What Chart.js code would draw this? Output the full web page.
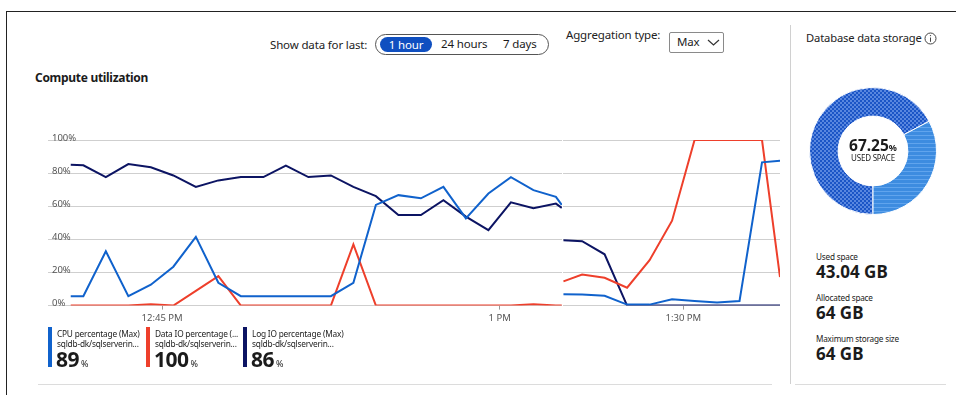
<!DOCTYPE html>
<html>
<head>
<meta charset="utf-8">
<script src="https://cdn.jsdelivr.net/npm/chart.js@4.4.0/dist/chart.umd.min.js"></script>
<style>
  body { margin: 0; width: 956px; height: 395px; overflow: hidden; background: #fff;
         font-family: "Noto Sans", sans-serif; color: #1b1b1b; position: relative; }
  .abs { position: absolute; white-space: nowrap; }
  .frame-top { left: 6px; top: 11px; width: 950px; height: 1px; background: #222; }
  .frame-left { left: 6px; top: 11px; width: 1px; height: 384px; background: #222; }
  .sep { left: 790px; top: 25px; width: 1px; height: 359px; background: #d0d0d0; }
  .bottom { top: 384px; height: 1px; background: #dcdcdc; }
  .lbl { font-size: 11.5px; line-height: 16px; color: #222; letter-spacing: -0.15px; }
  .pill { left: 375px; top: 34px; width: 172px; height: 19px; border: 1px solid #555; border-radius: 11px; }
  .pill span { position: absolute; top: 1px; font-size: 11.5px; line-height: 16px; letter-spacing: -0.15px; }
  .pill .on { left: 4px; top: 2px; width: 52px; height: 15px; line-height: 15px; background: #0f4fc0;
              color: #fff; border-radius: 8px; text-align: center; }
  .drop { left: 669px; top: 32px; width: 53px; height: 19px; border: 1px solid #8a8a8a; border-radius: 2px; }
  .title { left: 35px; top: 69px; font-size: 12px; font-weight: 700; letter-spacing: -0.3px; }
  .leg { top: 327px; }
  .leg .bar { position: absolute; left: 0; top: 0; width: 4px; height: 40px; }
  .leg .t { position: absolute; left: 9px; font-size: 8.3px; line-height: 10px; letter-spacing: -0.2px; color: #222; }
  .leg .v { position: absolute; left: 8px; top: 20px; font-size: 21px; line-height: 24px; font-weight: 700; letter-spacing: -0.5px; }
  .leg .v small { font-size: 9px; font-weight: 400; margin-left: 2px; letter-spacing: 0; }
  .st { left: 816px; }
  .st .k { font-size: 8.2px; line-height: 10px; color: #222; letter-spacing: -0.2px; }
  .st .n { font-size: 17px; line-height: 20px; font-weight: 700; }
</style>
</head>
<body>
<div class="abs frame-top"></div>
<div class="abs frame-left"></div>
<div class="abs sep"></div>
<div class="abs bottom" style="left:38px;width:734px"></div>
<div class="abs bottom" style="left:795px;width:151px"></div>

<div class="abs lbl" style="left:270px;top:37px">Show data for last:</div>
<div class="abs pill">
  <span class="on">1 hour</span>
  <span style="left:65px">24 hours</span>
  <span style="left:127px">7 days</span>
</div>
<div class="abs lbl" style="left:566px;top:27px">Aggregation type:</div>
<div class="abs drop">
  <span class="abs lbl" style="left:7px;top:1px">Max</span>
  <svg class="abs" style="left:37px;top:5px" width="13" height="9"><polyline points="1,2 6.5,7 12,2" fill="none" stroke="#333" stroke-width="1.2"/></svg>
</div>
<div class="abs title">Compute utilization</div>

<canvas id="leftChart" class="abs" style="left:40px;top:120px" width="524" height="210"></canvas>
<canvas id="rightChart" class="abs" style="left:562px;top:120px" width="224" height="210"></canvas>

<div class="abs leg" style="left:48px">
  <div class="bar" style="background:#1062cc"></div>
  <div class="t" style="top:2px">CPU percentage (Max)</div>
  <div class="t" style="top:12px">sqldb-dk/sqlserverin...</div>
  <div class="v">89<small>%</small></div>
</div>
<div class="abs leg" style="left:146px">
  <div class="bar" style="background:#ee3f2b"></div>
  <div class="t" style="top:2px">Data IO percentage (...</div>
  <div class="t" style="top:12px">sqldb-dk/sqlserverin...</div>
  <div class="v">100<small>%</small></div>
</div>
<div class="abs leg" style="left:243px">
  <div class="bar" style="background:#0c1463"></div>
  <div class="t" style="top:2px">Log IO percentage (Max)</div>
  <div class="t" style="top:12px">sqldb-dk/sqlserverin...</div>
  <div class="v">86<small>%</small></div>
</div>

<div class="abs lbl" style="left:806px;top:30px;font-size:11.2px">Database data storage</div>
<svg class="abs" style="left:924px;top:32px" width="13" height="13"><circle cx="6.5" cy="6.5" r="5.5" fill="none" stroke="#444" stroke-width="1"/><line x1="6.5" y1="5.5" x2="6.5" y2="9.8" stroke="#444" stroke-width="1"/><circle cx="6.5" cy="3.6" r="0.7" fill="#444"/></svg>

<canvas id="donut" class="abs" style="left:809px;top:87px" width="128" height="128"></canvas>
<div class="abs" style="left:809px;top:136px;width:128px;text-align:center;font-size:15.5px;font-weight:700;line-height:18px">67.25<span style="font-size:9px">%</span></div>
<div class="abs" style="left:809px;top:153px;width:128px;text-align:center;font-size:8px;line-height:10px;letter-spacing:-0.2px">USED SPACE</div>

<div class="abs st" style="top:252px"><div class="k">Used space</div><div class="n">43.04 GB</div></div>
<div class="abs st" style="top:293px"><div class="k">Allocated space</div><div class="n">64 GB</div></div>
<div class="abs st" style="top:334px"><div class="k">Maximum storage size</div><div class="n">64 GB</div></div>

<script>
// sample times are minutes after 12:00 PM, one sample per minute
const leftTimes = [40.94, 41.5, 42.5, 43.5, 44.5, 45.5, 46.5, 47.5, 48.5, 49.5, 50.5, 51.5,
  52.5, 53.5, 54.5, 55.5, 56.5, 57.5, 58.5, 59.5, 60.5, 61.5, 62.5, 62.76];
const cpuLeft = [5.7, 5.7, 32.8, 5.7, 12.6, 23.5, 41.5, 13.8, 5.7, 5.7, 5.7, 5.7,
  5.7, 13.8, 60.8, 66.7, 64.8, 71.7, 52.7, 67.7, 77.6, 69.7, 65.7, 60.8];
const dataIoLeft = [0, 0, 0, 0, 0.8, 0, 8.9, 17.8, 0, 0, 0, 0,
  0, 36.9, 0, 0, 0, 0, 0, 0, 0, 0.8, 0, 0];
const logIoLeft = [85.1, 84.7, 77.6, 85.5, 83.5, 78.6, 71.7, 75.6, 77.6, 77.6, 84.5, 77.6,
  78.6, 71.7, 66.1, 54.7, 54.7, 63.6, 53.7, 45.6, 62.4, 58.8, 61.6, 59.0];

const rightTimes = [84.67, 85.5, 86.5, 87.5, 88.5, 89.5, 90.5, 91.5, 92.5, 93.5, 94.3];
const cpuRight = [6.9, 6.7, 5.9, 0.6, 0.6, 3.8, 2.8, 1.8, 2.8, 86.5, 87.5];
const dataIoRight = [14.6, 18.8, 16.8, 10.8, 27.4, 51.3, 100, 100, 100, 100, 17.2];
const logIoRight = [39.5, 38.9, 31.0, 0, 0, 0, 0, 0, 0, 0, 0];

const leftTicks = [45, 60];
const leftTickLabels = ['12:45 PM', '1 PM'];
const rightTicks = [90];
const rightTickLabels = ['1:30 PM'];

const usedPct = 67.25;

const colors = { cpu: '#1062cc', dataIo: '#ee3f2b', logIo: '#0c1463' };

Chart.defaults.font.family = '"Noto Sans", sans-serif';
Chart.defaults.animation = false;

const toPoints = (times, vals) => times.map((t, i) => ({ x: t, y: vals[i] }));

function lineChart(id, times, series, range, ticks, tickLabels, showY, pad) {
  return new Chart(document.getElementById(id), {
    type: 'line',
    data: {
      datasets: [
        { label: 'CPU percentage (Max)', data: toPoints(times, series[0]), borderColor: colors.cpu },
        { label: 'Data IO percentage (Max)', data: toPoints(times, series[1]), borderColor: colors.dataIo },
        { label: 'Log IO percentage (Max)', data: toPoints(times, series[2]), borderColor: colors.logIo },
      ].map((d) => ({ ...d, borderWidth: 2, pointRadius: 0, tension: 0, fill: false })),
    },
    options: {
      responsive: false,
      layout: { padding: pad },
      plugins: { legend: { display: false }, tooltip: { enabled: false } },
      scales: {
        x: {
          type: 'linear',
          min: range[0],
          max: range[1],
          afterBuildTicks: (axis) => { axis.ticks = ticks.map((v) => ({ value: v })); },
          ticks: {
            callback: (v) => tickLabels[ticks.indexOf(v)],
            font: { size: 9.5 },
            color: '#555',
            padding: 3,
            maxRotation: 0,
          },
          grid: { drawOnChartArea: false, drawTicks: true, tickLength: 4, color: '#999' },
          border: { display: false },
        },
        y: {
          min: 0,
          max: 100,
          ticks: {
            display: showY,
            stepSize: 20,
            mirror: true,
            padding: 4,
            labelOffset: -2,
            callback: (v) => v + '%',
            font: { size: 9.5 },
            color: '#555',
          },
          grid: { color: '#cfcfcf', lineWidth: 1, drawTicks: false },
          border: { display: false },
        },
      },
    },
  });
}

// the y axis keeps 8px for its mirrored labels, so the left chart needs no extra padding
lineChart('leftChart', leftTimes, [cpuLeft, dataIoLeft, logIoLeft], [39.93, 62.77],
  leftTicks, leftTickLabels, true, { left: 0, right: 2, top: 20, bottom: 3 });
lineChart('rightChart', rightTimes, [cpuRight, dataIoRight, logIoRight], [84.65, 94.3],
  rightTicks, rightTickLabels, false, { left: 1, right: 6, top: 20, bottom: 3 });

// storage donut: crosshatched used part, lined free part
const dctx = document.getElementById('donut').getContext('2d');
function pattern(base, draw) {
  const c = document.createElement('canvas');
  c.width = 4; c.height = 4;
  const g = c.getContext('2d');
  g.fillStyle = base;
  g.fillRect(0, 0, 4, 4);
  draw(g);
  return dctx.createPattern(c, 'repeat');
}
const hatchUsed = pattern('#1b55c6', (g) => {
  g.strokeStyle = 'rgba(170,200,255,0.55)';
  g.lineWidth = 0.8;
  g.beginPath();
  g.moveTo(0, 0); g.lineTo(4, 4);
  g.moveTo(4, 0); g.lineTo(0, 4);
  g.stroke();
});
const hatchFree = pattern('#3d8ce0', (g) => {
  g.fillStyle = 'rgba(120,180,245,0.6)';
  g.fillRect(0, 0, 4, 1);
});

new Chart(dctx, {
  type: 'doughnut',
  data: {
    labels: ['Used space', 'Free space'],
    datasets: [{
      data: [usedPct, 100 - usedPct],
      backgroundColor: [hatchUsed, hatchFree],
      borderColor: '#fff',
      borderWidth: 1,
      hoverOffset: 0,
    }],
  },
  options: {
    responsive: false,
    rotation: 180,
    cutout: '55%',
    plugins: { legend: { display: false }, tooltip: { enabled: false } },
  },
});
</script>
</body>
</html>
